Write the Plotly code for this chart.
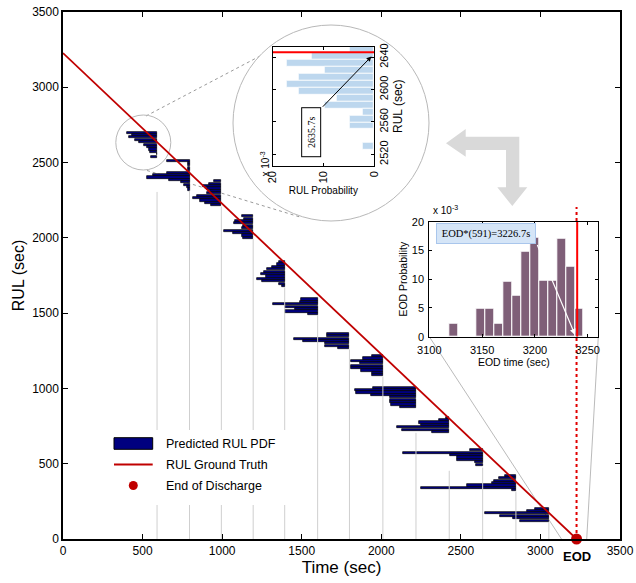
import plotly.graph_objects as go

# ---------------- data ----------------
EOD_TRUE = 3227            # true end of discharge (sec)
EOD_MARK_TOP = 2205        # top of the dotted EOD marker (RUL, sec)

PRED_TIMES = [591, 795, 995, 1195, 1393, 1600, 1800, 2010, 2218, 2427, 2637, 2846, 3053]
PDF_TOP_RUL = [2699, 2513, 2376, 2144, 1839, 1591, 1363, 1215, 1005, 806, 589, 419, 202]
PDF_BIN = 16               # RUL bin width (sec)
PDF_SCALE = 11             # sec of time axis per 1e-3 of probability
PDF_VALUES = [
    [17.1, 14.3, 16.0, 12.5, 10.3, 7.4, 5.7, 4.6, 4.0, 0, 3.4],
    [13.1, 0.9, 0.9, 0.9, 0.9, 13.1, 21.1, 24.5, 12.0, 4.6, 2.9, 1.7, 0.6],
    [4.0, 6.8, 10.3, 8.0, 6.3, 8.0, 13.7, 16.0, 12.0, 9.1, 5.7],
    [6.3, 5.5, 10.3, 10.8, 5.7, 6.3, 16.9, 11.4, 6.3, 5.7],
    [3.4, 4.3, 7.2, 10.0, 12.0, 13.7, 10.8, 15.8, 12.9, 3.4, 1.5],
    [9.7, 9.9, 25.7, 18.8, 13.1, 18.8, 5.7],
    [13.1, 13.1, 31.4, 26.8, 13.7, 13.7, 6.8],
    [6.3, 11.4, 18.0, 13.1, 18.0, 18.0, 12.3, 6.3, 6.3],
    [24.5, 34.8, 34.2, 25.7, 14.8, 14.8, 14.8, 14.3, 9.1],
    [1.7, 5.7, 17.1, 16.0, 29.7, 26.8, 9.7],
    [7.4, 45.7, 18.8, 14.8, 14.8, 4.6, 4.0],
    [6.3, 9.7, 12.6, 13.7, 28.0, 54.2, 2.3],
    [8.0, 12.6, 36.5, 28.0, 20.5, 16.6],
]
PDF_LINE_TOP = [2305, 2313, 2208, 1992, 1671, 1487, 1259, 1079, 705, 453, 474, 315, 114]

# zoomed RUL pdf at t = 591 s
INSET_RUL_CENTERS = [2650, 2641.4, 2632.8, 2624.2, 2615.6, 2607, 2598.4, 2589.8,
                     2581.2, 2572.6, 2564, 2555.4, 2546.8, 2538.2, 2529.6]
INSET_RUL_PROB = [4.7, 12.3, 17.2, 9.7, 14.8, 17.2, 14.8, 7.4, 9.7, 2.3, 4.7, 4.7, 0, 0, 2.3]
INSET_TRUE_RUL = 2646
INSET_MEAN_RUL = 2635.7

# EOD pdf at t = 591 s
EOD_CENTERS = [3123, 3131.5, 3140, 3148.5, 3157, 3165.5, 3174, 3182.5,
               3191, 3199.5, 3208, 3216.5, 3225, 3233.5, 3242]
EOD_PROB = [2.2, 0, 0, 4.8, 4.8, 2.2, 9.6, 7.2, 14.7, 17.2, 9.7, 9.7, 17.1, 12.2, 4.8]
EOD_INSET_TRUE = 3240
EOD_EST = 3226.7

MAIN_TICKS = [0, 500, 1000, 1500, 2000, 2500, 3000, 3500]

# ---------------- geometry helpers ----------------
FIG_W, FIG_H = 636, 583
ML, MR, MT, MB = 63, 16, 12, 44
PW, PH = FIG_W - ML - MR, FIG_H - MT - MB


def pxx(x):
    return (x - ML) / PW


def pxy(y):
    return (FIG_H - MB - y) / PH


FONT = "Liberation Sans, Arial, sans-serif"
SERIF = "Liberation Serif, Times New Roman, serif"
NAVY = "#00007f"
DRED = "#c00000"

fig = go.Figure()

# gray vertical lines under each predicted pdf
vx, vy = [], []
for t, top in zip(PRED_TIMES, PDF_LINE_TOP):
    vx += [t, t, None]
    vy += [0, top, None]
fig.add_trace(go.Scatter(x=vx, y=vy, mode="lines", line=dict(color="#cfcfcf", width=1),
                         showlegend=False, hoverinfo="skip"))

# predicted RUL pdfs
for k, t in enumerate(PRED_TIMES):
    vals = PDF_VALUES[k]
    lengths = [v * PDF_SCALE for v in vals]
    ys = [PDF_TOP_RUL[k] - i * PDF_BIN for i in range(len(vals))]
    fig.add_trace(go.Bar(orientation="h", x=lengths, base=[t - L for L in lengths], y=ys,
                         width=PDF_BIN * 0.88,
                         marker=dict(color=NAVY, line=dict(color="black", width=0.7)),
                         showlegend=False, hoverinfo="skip"))

# ground truth
fig.add_trace(go.Scatter(x=[0, EOD_TRUE], y=[EOD_TRUE, 0], mode="lines",
                         line=dict(color=DRED, width=1.8), showlegend=False))
fig.add_trace(go.Scatter(x=[EOD_TRUE, EOD_TRUE], y=[0, EOD_MARK_TOP], mode="lines",
                         line=dict(color="#e00000", width=2, dash="dot"), showlegend=False))
fig.add_trace(go.Scatter(x=[EOD_TRUE], y=[0], mode="markers", cliponaxis=False,
                         marker=dict(color=DRED, size=11), showlegend=False))

# inset 1: RUL pdf
fig.add_trace(go.Bar(orientation="h", x=INSET_RUL_PROB, y=INSET_RUL_CENTERS, width=8.6,
                     marker=dict(color="#bdd7ee", line=dict(color="white", width=0.8)),
                     xaxis="x2", yaxis="y2", showlegend=False))
fig.add_trace(go.Scatter(x=[0, 20], y=[INSET_TRUE_RUL, INSET_TRUE_RUL], mode="lines",
                         line=dict(color="#ff0000", width=2), xaxis="x2", yaxis="y2",
                         showlegend=False, cliponaxis=True))

# inset 2: EOD pdf
fig.add_trace(go.Bar(x=EOD_CENTERS, y=EOD_PROB, width=8.5,
                     marker=dict(color="#7f5f78", line=dict(color="white", width=1)),
                     xaxis="x3", yaxis="y3", showlegend=False))
fig.add_trace(go.Scatter(x=[EOD_INSET_TRUE, EOD_INSET_TRUE], y=[0, 20], mode="lines",
                         line=dict(color="#ff0000", width=2), xaxis="x3", yaxis="y3",
                         showlegend=False))

# ---------------- shapes ----------------
shapes = []


def circ(cx, cy, r, **kw):
    return dict(type="circle", xref="paper", yref="paper",
                x0=pxx(cx - r), x1=pxx(cx + r), y0=pxy(cy + r), y1=pxy(cy - r), **kw)


def seg(x0, y0, x1, y1, **kw):
    return dict(type="line", xref="paper", yref="paper",
                x0=pxx(x0), y0=pxy(y0), x1=pxx(x1), y1=pxy(y1), **kw)


dotted = dict(color="#9a9a9a", width=1, dash="dot")
shapes.append(seg(146, 116, 262, 55, line=dotted, layer="below"))
shapes.append(seg(147, 170.5, 300, 217, line=dotted, layer="below"))
shapes.append(seg(429.3, 336.7, 561.7, 539.3, line=dict(color="#a8a8a8", width=0.8), layer="below"))
shapes.append(seg(598.3, 336.7, 586.7, 539.3, line=dict(color="#a8a8a8", width=0.8), layer="below"))
shapes.append(circ(143.3, 142.5, 27.5, line=dict(color="#b8b8b8", width=1), layer="below"))
shapes.append(circ(331, 123, 98, line=dict(color="#b8b8b8", width=1), fillcolor="white", layer="below"))

# big L-shaped gray arrow
arrow_pts = [(446, 143.3), (465.7, 129), (465.7, 136.7), (519.3, 136.7), (519.3, 187.3),
             (527.3, 187.3), (512.3, 206), (497.3, 187.3), (506, 187.3), (506, 150),
             (465.7, 150), (465.7, 156.7)]
path = "M " + " L ".join(f"{pxx(a):.5f},{pxy(b):.5f}" for a, b in arrow_pts) + " Z"
shapes.append(dict(type="path", xref="paper", yref="paper", path=path,
                   fillcolor="#d9d9d9", line=dict(width=0), layer="below"))

# inset 2 white background
shapes.append(dict(type="rect", xref="x3", yref="y3", x0=3100, x1=3260, y0=0, y1=20,
                   fillcolor="white", line=dict(width=0), layer="below"))

# legend (drawn manually)
shapes.append(dict(type="rect", xref="paper", yref="paper", x0=pxx(106), x1=pxx(300),
                   y0=pxy(505), y1=pxy(430), fillcolor="white", line=dict(width=0), layer="above"))
shapes.append(dict(type="rect", xref="paper", yref="paper", x0=pxx(114), x1=pxx(152.7),
                   y0=pxy(449.3), y1=pxy(437.7), fillcolor=NAVY, line=dict(color="black", width=1),
                   layer="above"))
shapes.append(seg(114, 464.5, 152.7, 464.5, line=dict(color=DRED, width=2), layer="above"))
shapes.append(circ(133.3, 485.5, 4.5, fillcolor=DRED, line=dict(color=DRED, width=0), layer="above"))

# ---------------- annotations ----------------
ann = []
for txt, yy in [("Predicted RUL PDF", 443.5), ("RUL Ground Truth", 465), ("End of Discharge", 485.7)]:
    ann.append(dict(text=txt, xref="paper", yref="paper", x=pxx(164), y=pxy(yy), xanchor="left",
                    yanchor="middle", showarrow=False, font=dict(family=FONT, size=12.5, color="black")))

ann.append(dict(text="<b>EOD</b>", xref="x", yref="paper", x=EOD_TRUE, y=0, yshift=-17,
                yanchor="middle", showarrow=False, font=dict(family=FONT, size=13, color="black")))

ann.append(dict(text="x 10<sup>-3</sup>", xref="paper", yref="paper", x=pxx(264), y=pxy(150),
                textangle=-90, showarrow=False, font=dict(family=FONT, size=10, color="black")))
ann.append(dict(text="x 10<sup>-3</sup>", xref="paper", yref="paper", x=pxx(431), y=pxy(210),
                xanchor="left", showarrow=False, font=dict(family=FONT, size=10, color="black")))

ann.append(dict(text=f"{INSET_MEAN_RUL}s", xref="x2", yref="y2", x=12.4, y=2547.6, textangle=-90,
                showarrow=False, bordercolor="black", borderwidth=1, bgcolor="white",
                width=44, height=14, borderpad=2, font=dict(family=SERIF, size=10, color="black")))
ann.append(dict(text="", xref="x2", yref="y2", x=0.5, y=2641, axref="x2", ayref="y2",
                ax=10.4, ay=2577, showarrow=True, arrowhead=2, arrowsize=1, arrowwidth=1,
                arrowcolor="black"))

ann.append(dict(text=f"EOD*(591)={EOD_EST}s", xref="x3", yref="y3", x=3153.5, y=17.9,
                showarrow=False, bordercolor="#a9c6ec", borderwidth=1, bgcolor="#d5e5f7",
                width=96, height=17, borderpad=1, font=dict(family=SERIF, size=10.5, color="black")))
ann.append(dict(text="", xref="x3", yref="y3", x=3238, y=0.3, axref="x3", ayref="y3",
                ax=3201.7, ay=16.2, showarrow=True, arrowhead=2, arrowsize=1, arrowwidth=1.2,
                arrowcolor="white"))

# ---------------- layout ----------------
axis_common = dict(showgrid=False, zeroline=False, showline=True, linecolor="black",
                   mirror="ticks", ticks="inside", tickcolor="black", automargin=False)

fig.update_layout(
    width=FIG_W, height=FIG_H,
    margin=dict(l=ML, r=MR, t=MT, b=MB, autoexpand=False),
    paper_bgcolor="white", plot_bgcolor="white",
    barmode="overlay", bargap=0, showlegend=False, hovermode=False,
    font=dict(family=FONT, color="black"),
    xaxis=dict(domain=[0, 1], range=[0, 3500], tickvals=MAIN_TICKS, ticklen=5, linewidth=1.5,
               tickfont=dict(size=12), title=dict(text="Time (sec)", font=dict(size=17), standoff=4),
               anchor="y", **axis_common),
    yaxis=dict(domain=[0, 1], range=[0, 3500], tickvals=MAIN_TICKS, ticklen=5, linewidth=1.5,
               tickfont=dict(size=12), title=dict(text="RUL (sec)", font=dict(size=16), standoff=4),
               anchor="x", **axis_common),
    xaxis2=dict(domain=[pxx(272.7), pxx(374)], range=[20, 0], tickvals=[0, 10, 20], tickangle=-90,
                ticklen=3, linewidth=1, tickfont=dict(size=11), anchor="y2",
                title=dict(text="RUL Probability", font=dict(size=10), standoff=4), **axis_common),
    yaxis2=dict(domain=[pxy(165.7), pxy(46.7)], range=[2506, 2653], tickvals=[2520, 2560, 2600, 2640],
                tickangle=-90, ticklen=3, linewidth=1, side="right", tickfont=dict(size=11), anchor="x2",
                title=dict(text="RUL (sec)", font=dict(size=12), standoff=4), **axis_common),
    xaxis3=dict(domain=[pxx(429.3), pxx(598.3)], range=[3100, 3260], tickvals=[3100, 3150, 3200, 3250],
                ticklen=3, linewidth=1, tickfont=dict(size=11), anchor="y3", ticklabelstandoff=3,
                title=dict(text="EOD time (sec)", font=dict(size=10.5), standoff=2), **axis_common),
    yaxis3=dict(domain=[pxy(336.7), pxy(221.7)], range=[0, 20], tickvals=[0, 5, 10, 15, 20],
                ticklen=3, linewidth=1, tickfont=dict(size=11), anchor="x3", ticklabelstandoff=2,
                title=dict(text="EOD Probability", font=dict(size=10.5), standoff=2), **axis_common),
    shapes=shapes,
    annotations=ann,
)

fig.write_html("out.html", config={"displayModeBar": False})
